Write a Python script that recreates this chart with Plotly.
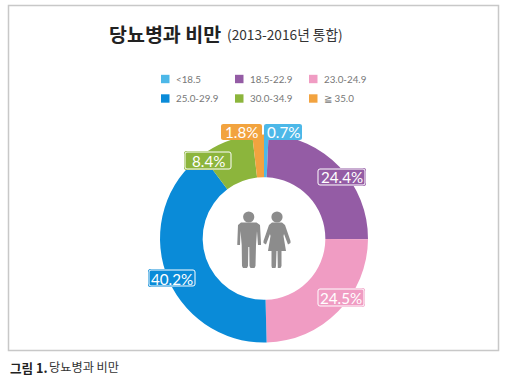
import plotly.graph_objects as go

W, H = 505, 380

categories = ["<18.5", "18.5-22.9", "23.0-24.9", "25.0-29.9", "30.0-34.9", "≧ 35.0"]
values = [0.7, 24.4, 24.5, 40.2, 8.4, 1.8]
colors = ["#4DB8E8", "#945CA5", "#F09CC3", "#0A8BD8", "#8CB53C", "#F2A33F"]
value_labels = ["0.7%", "24.4%", "24.5%", "40.2%", "8.4%", "1.8%"]
title_text = "당뇨병과 비만"
subtitle_text = "(2013-2016년 통합)"
caption_bold = "그림 1."
caption_text = "당뇨병과 비만"

# label boxes: x0, x1, y0, y1 in page pixels
label_boxes = [(264, 302, 124, 140), (317, 366, 168, 186), (317, 365, 288, 307),
               (148, 196, 269, 287), (184, 232, 151, 170), (221, 262, 124, 140)]
label_outline = [False, True, True, True, True, False]

CJK = "Noto Sans CJK KR"
LAB = "Lato, sans-serif"


def X(p):
    return p / W


def Y(p):
    return 1 - p / H


def P(x, y):
    return f"{X(x):.5f},{Y(y):.5f}"


def rrect(x0, x1, y0, y1, r):
    return (f"M{P(x0 + r, y0)} L{P(x1 - r, y0)} Q{P(x1, y0)} {P(x1, y0 + r)} "
            f"L{P(x1, y1 - r)} Q{P(x1, y1)} {P(x1 - r, y1)} L{P(x0 + r, y1)} "
            f"Q{P(x0, y1)} {P(x0, y1 - r)} L{P(x0, y0 + r)} Q{P(x0, y0)} {P(x0 + r, y0)} Z")


def poly(pts):
    return "M" + " L".join(P(x, y) for x, y in pts) + " Z"


fig = go.Figure(go.Pie(
    labels=categories, values=values, sort=False, direction="clockwise", rotation=0,
    hole=0.59, textinfo="none", marker=dict(colors=colors, line=dict(width=0)),
    domain=dict(x=[X(160), X(368)], y=[Y(342.5), Y(134.5)]), showlegend=False,
))

shapes = []
annotations = []


def text(x, y, s, size, color, family, anchor="left"):
    annotations.append(dict(x=X(x), y=Y(y), xref="paper", yref="paper", text=s, showarrow=False,
                            xanchor=anchor, yanchor="middle", align=anchor,
                            font=dict(size=size, color=color, family=family)))


# frame
shapes.append(dict(type="rect", xref="paper", yref="paper", x0=X(8.5), x1=X(498.5), y0=Y(350.5), y1=Y(5.5),
                   line=dict(color="#C8C8C8", width=1.5), layer="below"))

# title and caption
text(107, 33, f"<b>{title_text}</b>", 19.5, "#222222", CJK)
text(224.5, 34, subtitle_text, 13.7, "#333333", CJK)
text(7.5, 367, f"<b>{caption_bold}</b>", 12.6, "#222222", CJK)
text(47, 367, caption_text, 12.2, "#333333", CJK)

# legend
legend_x = [161, 235, 309]
legend_y = [79, 98.5]
for i, (cat, col) in enumerate(zip(categories, colors)):
    lx, ly = legend_x[i % 3], legend_y[i // 3]
    shapes.append(dict(type="rect", xref="paper", yref="paper", x0=X(lx), x1=X(lx + 8.5),
                       y0=Y(ly + 4.2), y1=Y(ly - 4.2), fillcolor=col, line=dict(width=0)))
    text(lx + 12.5, ly, cat.replace("<", "&lt;"), 9.8, "#777777", "Lato")

# value labels
for lab, col, (x0, x1, y0, y1), outl in zip(value_labels, colors, label_boxes, label_outline):
    shapes.append(dict(type="path", xref="paper", yref="paper", path=rrect(x0, x1, y0, y1, 2.5),
                       fillcolor=col, line=dict(width=0)))
    shapes.append(dict(type="path", xref="paper", yref="paper",
                       path=rrect(x0 + 1, x1 - 1, y0 + 1, y1 - 1, 2),
                       fillcolor="rgba(0,0,0,0)",
                       line=dict(color="white" if outl else col, width=1)))
    text((x0 + x1) / 2, (y0 + y1) / 2 + 0.5, lab, 15.2, "white", LAB, "center")

# people icon
GREY = "#8C8C8C"


def circle(cx, cy, r):
    shapes.append(dict(type="circle", xref="paper", yref="paper", x0=X(cx - r), x1=X(cx + r),
                       y0=Y(cy + r), y1=Y(cy - r), fillcolor=GREY, line=dict(width=0)))


def fill(pts):
    shapes.append(dict(type="path", xref="paper", yref="paper", path=poly(pts),
                       fillcolor=GREY, line=dict(width=0)))


circle(248.7, 217, 5.6)
fill([(241, 222.5), (256.5, 222.5), (260, 225), (261, 243), (261, 245), (258, 245), (257, 231),
      (256, 245), (255.5, 266), (254.5, 268), (250.5, 268), (249.5, 266), (249.3, 247), (248.3, 247),
      (248, 266), (247, 268), (243, 268), (242, 266), (241.7, 245), (240.5, 231), (240, 245),
      (237.3, 245), (237.3, 243), (238, 225)])
circle(277, 217, 5.6)
fill([(272, 222.5), (282, 222.5), (285, 225), (290.5, 241), (290.5, 243), (288, 244.5), (284, 234),
      (283.5, 236), (286, 251), (281.5, 251), (281.5, 266), (280.5, 268), (277.8, 268), (277.5, 251),
      (276.5, 251), (276, 266), (275.5, 268), (272, 268), (271.5, 266), (271.5, 251), (268, 251),
      (270.5, 236), (270, 234), (266, 244.5), (263.5, 243), (263.5, 241), (269, 225)])

fig.update_layout(width=W, height=H, margin=dict(l=0, r=0, t=0, b=0), paper_bgcolor="white",
                  plot_bgcolor="white", showlegend=False, shapes=shapes, annotations=annotations)
fig.write_html("out.html", config=dict(displayModeBar=False),
               post_script="document.body.style.margin='0';document.documentElement.style.overflow='hidden';")
